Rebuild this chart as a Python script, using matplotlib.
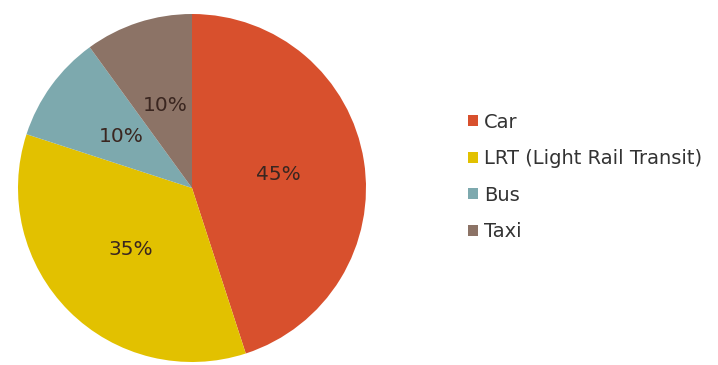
import matplotlib.pyplot as plt

labels = ['Car', 'LRT (Light Rail Transit)', 'Bus', 'Taxi']
shares = [45, 35, 10, 10]
colors = ['#D8502D', '#E2C100', '#7DA9AE', '#8C7366']

plt.rcParams['font.family'] = ['DejaVu Sans']

fig = plt.figure(figsize=(7.18, 3.65), dpi=100)
ax = fig.add_axes([18 / 718, 3 / 365, 348 / 718, 348 / 365])

wedges, texts, autotexts = ax.pie(
    shares, colors=colors, startangle=90, counterclock=False,
    autopct='%d%%', pctdistance=0.5, radius=1.0,
    wedgeprops={'linewidth': 0},
    textprops={'fontsize': 14.5, 'color': '#3a2620'})
ax.set_xlim(-1.0, 1.0)
ax.set_ylim(-1.0, 1.0)
ax.set_aspect('equal')

fig.legend(wedges, labels, loc='center left', bbox_to_anchor=(451 / 718, 1 - 177 / 365),
           frameon=False, fontsize=14, handlelength=0.5, handleheight=0.5,
           handletextpad=0.3, labelspacing=0.9, labelcolor='#333333')

fig.savefig('out.png', dpi=100)
